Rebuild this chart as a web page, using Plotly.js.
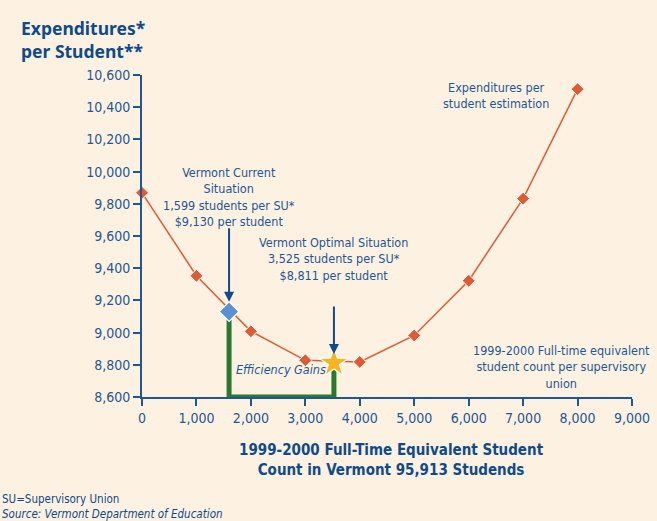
<!DOCTYPE html>
<html><head><meta charset="utf-8">
<script src="https://cdn.plot.ly/plotly-3.0.1.min.js"></script>
<style>html,body{margin:0;padding:0;background:#fdf2e1;}#chart{width:657px;height:521px;}</style>
</head><body><div id="chart"></div>
<script>
const studentsPerSU = [0, 1000, 2000, 3000, 4000, 5000, 6000, 7000, 8000];
const expenditures = [9868, 9353, 9008, 8828, 8818, 8982, 9322, 9832, 10512];
const currentPoint = {x: 1599, y: 9130};
const optimalPoint = {x: 3525, y: 8811};
const yMin = 8600;
const xTickVals = [0,1000,2000,3000,4000,5000,6000,7000,8000,9000];
const xTickText = ['0','1,000','2,000','3,000','4,000','5,000','6,000','7,000','8,000','9,000'];
const yTickVals = [8600,8800,9000,9200,9400,9600,9800,10000,10200,10400,10600];
const yTickText = ['8,600','8,800','9,000','9,200','9,400','9,600','9,800','10,000','10,200','10,400','10,600'];

const NARROW = '"Liberation Sans Narrow", "DejaVu Sans Condensed", Arial, sans-serif';
const BLUE = '#1d5796';
const DARK = '#0e4a8c';

const traces = [
  {x:[currentPoint.x,currentPoint.x,optimalPoint.x,optimalPoint.x], y:[currentPoint.y,yMin,yMin,optimalPoint.y],
   mode:'lines', line:{color:'#2a7a2e', width:5}, hoverinfo:'skip', cliponaxis:false},
  {x:studentsPerSU, y:expenditures, mode:'lines+markers',
   line:{color:'#e25a33', width:1.5},
   marker:{symbol:'diamond', size:10, color:'#e25a33', line:{color:'#ffffff', width:1}}, cliponaxis:false},
  {x:[currentPoint.x], y:[currentPoint.y], mode:'markers',
   marker:{symbol:'diamond', size:15, color:'#5b8fd6', line:{color:'#ffffff', width:1.2}}, cliponaxis:false},
  {x:[optimalPoint.x], y:[optimalPoint.y], mode:'markers',
   marker:{symbol:'star', size:22, color:'#f7b421', line:{color:'#ffffff', width:1.2}}, cliponaxis:false}
];

const annFont = {family:NARROW, size:12.5, color:BLUE};
const layout = {
  width:657, height:521,
  paper_bgcolor:'#fdf2e1', plot_bgcolor:'#fdf2e1',
  showlegend:false,
  margin:{l:142, r:25, t:75, b:124},
  xaxis:{range:[0,9000], tickvals:xTickVals, ticktext:xTickText, showgrid:false, zeroline:false,
    showline:true, linecolor:BLUE, linewidth:2, ticks:'outside', ticklen:7, tickwidth:2, tickcolor:BLUE,
    tickfont:{family:NARROW, size:14, color:BLUE}, fixedrange:true},
  yaxis:{range:[8600,10600], tickvals:yTickVals, ticktext:yTickText, showgrid:false, zeroline:false,
    showline:true, linecolor:BLUE, linewidth:2, ticks:'outside', ticklen:7, tickwidth:2, tickcolor:BLUE,
    tickfont:{family:NARROW, size:14, color:BLUE}, fixedrange:true},
  annotations:[
    {xref:'paper', yref:'paper', x:-0.252, y:1.03, xanchor:'left', yanchor:'bottom', align:'left', showarrow:false,
     text:'<b>Expenditures*<br>per Student**</b>', font:{family:'"Noto Sans", "Open Sans", sans-serif', size:17.5, color:DARK}},
    {x:currentPoint.x, y:currentPoint.y, ax:0, ay:-85, axref:'pixel', ayref:'pixel', showarrow:true,
     arrowhead:2, arrowsize:1, arrowwidth:2, arrowcolor:DARK, standoff:10, text:''},
    {x:optimalPoint.x, y:optimalPoint.y, ax:0, ay:-58, showarrow:true,
     arrowhead:2, arrowsize:1, arrowwidth:2, arrowcolor:DARK, standoff:9, text:''},
    {x:currentPoint.x, y:10055, xanchor:'center', yanchor:'top', showarrow:false, align:'center',
     text:'Vermont Current<br>Situation<br>'+currentPoint.x.toLocaleString('en-US')+' students per SU*<br>$'+currentPoint.y.toLocaleString('en-US')+' per student',
     font:annFont},
    {x:optimalPoint.x, y:9620, xanchor:'center', yanchor:'top', showarrow:false, align:'center',
     text:'Vermont Optimal Situation<br>'+optimalPoint.x.toLocaleString('en-US')+' students per SU*<br>$'+optimalPoint.y.toLocaleString('en-US')+' per student',
     font:annFont},
    {x:6500, y:10580, xanchor:'center', yanchor:'top', showarrow:false, align:'center',
     text:'Expenditures per<br>student estimation', font:annFont},
    {x:7700, y:8950, xanchor:'center', yanchor:'top', showarrow:false, align:'center',
     text:'1999-2000 Full-time equivalent<br>student count per supervisory<br>union', font:annFont},
    {x:2550, y:8770, xanchor:'center', yanchor:'middle', showarrow:false,
     text:'<i>Efficiency Gains</i>', font:{family:NARROW, size:12.5, color:BLUE}},
    {xref:'paper', yref:'paper', x:0.51, y:-0.13, xanchor:'center', yanchor:'top', showarrow:false, align:'center',
     text:'<b>1999-2000 Full-Time Equivalent Student<br>Count in Vermont 95,913 Studends</b>',
     font:{family:NARROW, size:15, color:DARK}},
    {xref:'paper', yref:'paper', x:-0.29, y:-0.29, xanchor:'left', yanchor:'top', showarrow:false, align:'left',
     text:'SU=Supervisory Union<br><i>Source: Vermont Department of Education</i>',
     font:{family:NARROW, size:11.5, color:DARK}}
  ]
};
Plotly.newPlot('chart', traces, layout, {staticPlot:true});
</script></body></html>
